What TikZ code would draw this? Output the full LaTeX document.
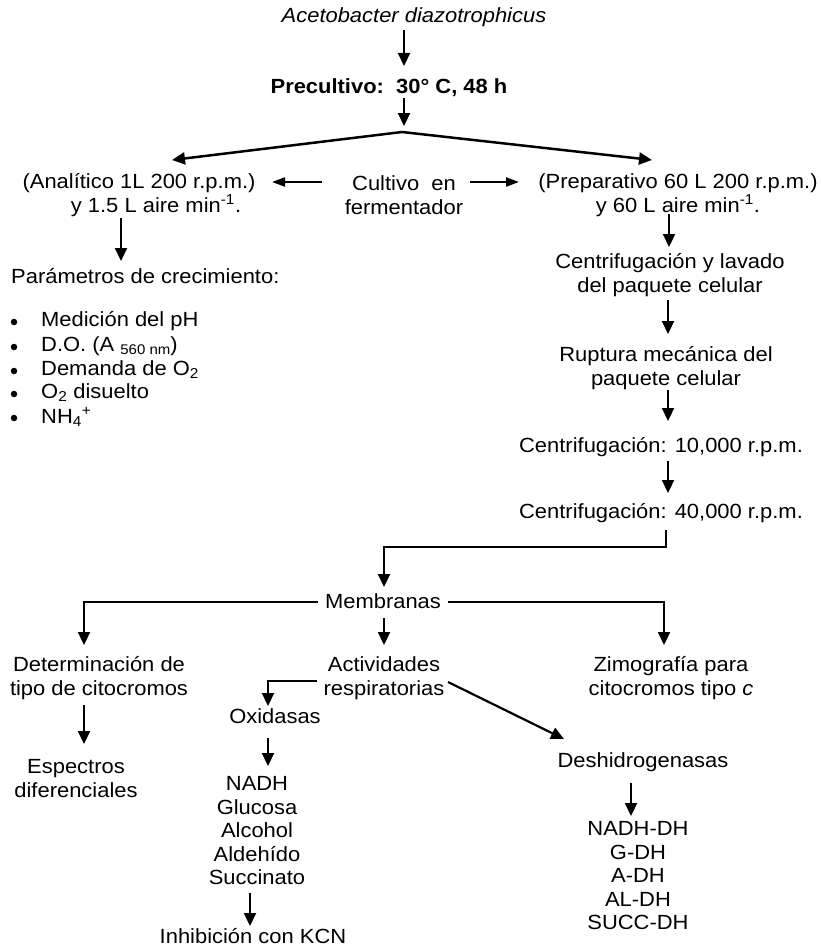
\documentclass[tikz,border=0pt]{standalone}
\usepackage{fontspec}
\setmainfont{Liberation Sans}[FakeStretch=1.07]
\usetikzlibrary{arrows.meta}
\newcommand\fs{\fontsize{20.5}{24}\selectfont}
\begin{document}
\begin{tikzpicture}[x=1pt,y=-1pt,
  txt/.style={font=\fs, inner sep=1pt, align=center},
  lst/.style={font=\fontsize{20.5}{23.5}\selectfont, inner sep=1pt, align=center},
  bul/.style={circle, fill=black, minimum size=6.5pt, inner sep=0pt},
  arr/.style={-{Triangle[length=13pt,width=12pt]}, line width=2.2pt},
  sarr/.style={-{Triangle[length=13pt,width=9pt]}, line width=2.2pt},
  ln/.style={line width=2.2pt}]
\useasboundingbox (0,0) rectangle (821,950);

% nodes
\node[txt,font=\fs\itshape] (ace) at (414,17) {Acetobacter diazotrophicus};
\node[txt,font=\fs\bfseries] (pre) at (389,88) {Precultivo:\ \ 30° C, 48 h};
\node[txt] (ana) at (139,195) {(Analítico 1L 200 r.p.m.)\\\hspace*{34pt}y 1.5 L aire min\textsuperscript{-1}.};
\node[txt] (cul) at (404,195) {Cultivo\ \ en\\fermentador};
\node[txt] (prep) at (678,195) {(Preparativo 60 L 200 r.p.m.)\\y 60 L aire min\textsuperscript{-1}.};
\node[txt,anchor=west] (par) at (10,276) {Parámetros de crecimiento:};
\node[bul] (b1d) at (14,322) {};
\node[txt,anchor=west] (b1) at (40,321) {Medición del pH};
\node[bul] (b2d) at (14,347) {};
\node[txt,anchor=west] (b2) at (40,346) {D.O. (A {\fontsize{14}{14}\selectfont\raisebox{-3pt}{560 nm}})};
\node[bul] (b3d) at (14,371) {};
\node[txt,anchor=west] (b3) at (40,370) {Demanda de O\textsubscript{2}};
\node[bul] (b4d) at (14,394) {};
\node[txt,anchor=west] (b4) at (40,393) {O\textsubscript{2} disuelto};
\node[bul] (b5d) at (14,418) {};
\node[txt,anchor=west] (b5) at (40,417) {NH\textsubscript{4}\textsuperscript{+}};
\node[txt] (cen1) at (670,275) {Centrifugación y lavado\\del paquete celular};
\node[txt] (rup) at (666,368) {Ruptura mecánica del\\paquete celular};
\node[txt] (c10) at (661,447) {Centrifugación: 10,000 r.p.m.};
\node[txt] (c40) at (661,513) {Centrifugación: 40,000 r.p.m.};
\node[txt] (mem) at (383,601) {Membranas};
\node[txt] (det) at (99,678) {Determinación de\\tipo de citocromos};
\node[txt] (esp) at (76,779) {Espectros\\diferenciales};
\node[txt] (act) at (384,678) {Actividades\\respiratorias};
\node[txt] (oxi) at (275,716) {Oxidasas};
\node[lst] (oxl) at (257,831) {NADH\\Glucosa\\Alcohol\\Aldehído\\Succinato};
\node[txt] (inh) at (253,936) {Inhibición con KCN};
\node[txt] (zim) at (671,678) {Zimografía para\\citocromos tipo \textit{c}};
\node[txt] (des) at (643,762) {Deshidrogenasas};
\node[lst] (dhl) at (638,876) {NADH-DH\\G-DH\\A-DH\\AL-DH\\SUCC-DH};

% connector end points
\coordinate (ace-o) at (404,30);   \coordinate (pre-i) at (404,66);
\coordinate (pre-o) at (404,98);   \coordinate (apex) at (404,126);
\coordinate (ap) at (402,132);
\coordinate (fl) at (172,160);     \coordinate (fr) at (652,160);
\coordinate (cul-l) at (322,182);  \coordinate (ana-r) at (272,182);
\coordinate (cul-r) at (470,182);  \coordinate (prep-l) at (519,182);
\coordinate (ana-o) at (121,218);  \coordinate (par-i) at (121,261);
\coordinate (prep-o) at (669,214); \coordinate (cen1-i) at (669,247);
\coordinate (cen1-o) at (668,300); \coordinate (rup-i) at (668,334);
\coordinate (rup-o) at (668,390);  \coordinate (c10-i) at (668,421);
\coordinate (c10-o) at (668,461);  \coordinate (c40-i) at (668,493);
\coordinate (c40-o) at (666,530);  \coordinate (c40-m) at (666,547);
\coordinate (mem-t) at (384,547);  \coordinate (mem-i) at (384,587);
\coordinate (mem-l) at (318,602);  \coordinate (det-i) at (84,645);
\coordinate (mem-r) at (448,602);  \coordinate (zim-i) at (664,645);
\coordinate (mem-o) at (384,618);  \coordinate (act-i) at (384,645);
\coordinate (det-o) at (84,705);   \coordinate (esp-i) at (84,744);
\coordinate (act-l) at (317,681);  \coordinate (oxi-i) at (268,706);
\coordinate (oxi-o) at (268,738);  \coordinate (oxl-i) at (268,766);
\coordinate (oxl-o) at (250,893);  \coordinate (inh-i) at (250,926);
\coordinate (act-r) at (448,682);  \coordinate (des-i) at (564,739);
\coordinate (des-o) at (631,783);  \coordinate (dhl-i) at (631,816);

% connectors
\draw[arr] (ace-o) -- (pre-i);
\draw[arr] (pre-o) -- (apex);
\draw[arr,line width=2.5pt] (ap) -- (fl);
\draw[arr,line width=2.5pt] (ap) -- (fr);
\draw[sarr] (cul-l) -- (ana-r);
\draw[sarr] (cul-r) -- (prep-l);
\draw[arr] (ana-o) -- (par-i);
\draw[arr] (prep-o) -- (cen1-i);
\draw[arr] (cen1-o) -- (rup-i);
\draw[arr] (rup-o) -- (c10-i);
\draw[arr] (c10-o) -- (c40-i);
\draw[arr] (c40-o) -- (c40-m) -- (mem-t) -- (mem-i);
\draw[arr] (mem-l) -| (det-i);
\draw[arr] (mem-r) -| (zim-i);
\draw[arr] (mem-o) -- (act-i);
\draw[arr] (det-o) -- (esp-i);
\draw[arr] (act-l) -| (oxi-i);
\draw[arr] (oxi-o) -- (oxl-i);
\draw[arr] (oxl-o) -- (inh-i);
\draw[arr] (act-r) -- (des-i);
\draw[arr] (des-o) -- (dhl-i);
\end{tikzpicture}
\end{document}
